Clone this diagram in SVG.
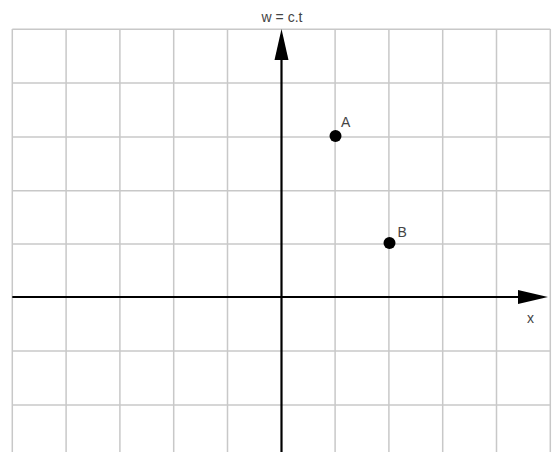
<svg xmlns="http://www.w3.org/2000/svg" width="553" height="452" viewBox="0 0 553 452">
<style>
.grid line{stroke:#c8c8c8;stroke-width:1.5}
.axis{stroke:#000;stroke-width:2.2;fill:none}
.lbl{font-family:"Liberation Sans",Arial,sans-serif;font-size:14px;fill:#444}
.pt{fill:#000}
</style>
<rect width="553" height="452" fill="#fff"/>
<g id="grid" class="grid">
<line x1="12.3" y1="29" x2="12.3" y2="452"/>
<line x1="66.1" y1="29" x2="66.1" y2="452"/>
<line x1="119.9" y1="29" x2="119.9" y2="452"/>
<line x1="173.7" y1="29" x2="173.7" y2="452"/>
<line x1="227.5" y1="29" x2="227.5" y2="452"/>
<line x1="335.1" y1="29" x2="335.1" y2="452"/>
<line x1="388.9" y1="29" x2="388.9" y2="452"/>
<line x1="442.7" y1="29" x2="442.7" y2="452"/>
<line x1="496.5" y1="29" x2="496.5" y2="452"/>
<line x1="550.3" y1="29" x2="550.3" y2="452"/>
<line x1="12.3" y1="29.3" x2="550.3" y2="29.3"/>
<line x1="12.3" y1="83.1" x2="550.3" y2="83.1"/>
<line x1="12.3" y1="136.9" x2="550.3" y2="136.9"/>
<line x1="12.3" y1="190.7" x2="550.3" y2="190.7"/>
<line x1="12.3" y1="244" x2="550.3" y2="244"/>
<line x1="12.3" y1="351" x2="550.3" y2="351"/>
<line x1="12.3" y1="405" x2="550.3" y2="405"/>
</g>
<g id="connectors">
<line id="x-axis" class="axis" x1="12.3" y1="297" x2="520" y2="297"/>
<polygon points="548,297 518,290 518,304" fill="#000"/>
<line id="w-axis" class="axis" x1="281.5" y1="452" x2="281.5" y2="60"/>
<polygon points="281.5,29 274.5,60 288.5,60" fill="#000"/>
</g>
<g id="label-w"><text class="lbl" x="282" y="21.5" text-anchor="middle">w = c.t</text></g>
<g id="label-x"><text class="lbl" x="530.5" y="323" text-anchor="middle">x</text></g>
<g id="point-A"><circle class="pt" cx="335.5" cy="136" r="6"/><text class="lbl" x="341" y="126.5">A</text></g>
<g id="point-B"><circle class="pt" cx="389.5" cy="243" r="6"/><text class="lbl" x="397.5" y="237.3">B</text></g>
</svg>
